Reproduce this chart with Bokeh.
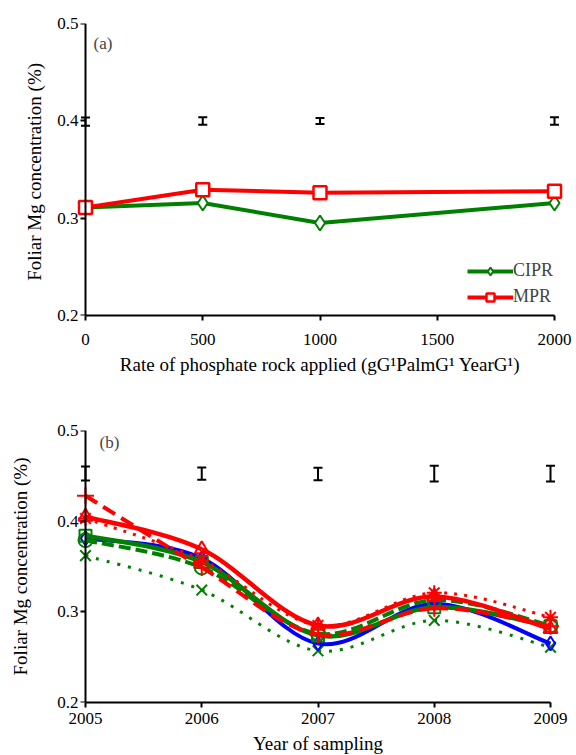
import numpy as np
from bokeh.plotting import figure
from bokeh.layouts import column
from bokeh.models import (ColumnDataSource, Whisker, TeeHead, Legend, LegendItem,
                          Label, Range1d, FixedTicker, LinearAxis)
from bokeh.embed import file_html
from bokeh.resources import INLINE

# ---------------- data: panel (a) ----------------
rates = [0, 500, 1000, 2000]
cipr = [0.311, 0.3156, 0.295, 0.3156]
mpr = [0.311, 0.3293, 0.326, 0.3276]
err_a_mid = [0.3992, 0.3998, 0.3998, 0.3998]
err_a_half = [0.0043, 0.0038, 0.0031, 0.0038]
rate_ticks = [0, 500, 1000, 1500, 2000]

# ---------------- data: panel (b) ----------------
years = [2005, 2006, 2007, 2008, 2009]
control = [0.381, 0.359, 0.265, 0.309, 0.265]
cipr500 = [0.384, 0.355, 0.274, 0.305, 0.284]
cipr1000 = [0.379, 0.349, 0.276, 0.313, 0.285]
cipr2000 = [0.362, 0.324, 0.257, 0.2905, 0.261]
mpr500 = [0.405, 0.369, 0.285, 0.317, 0.281]
mpr1000 = [0.428, 0.349, 0.275, 0.304, 0.284]
mpr2000 = [0.403, 0.357, 0.285, 0.321, 0.294]
err_b_mid = [0.4525, 0.4525, 0.4520, 0.4525, 0.4525]
err_b_half = [0.0077, 0.0067, 0.0070, 0.0087, 0.0087]

y_ticks = [0.2, 0.3, 0.4, 0.5]

GREEN = "#008000"
RED = "#ff0000"
BLUE = "#0000ff"
FONT = "Liberation Serif"


def base_style(ax):
    ax.axis_line_width = 2
    ax.axis_line_color = "black"
    ax.major_tick_line_width = 2
    ax.major_tick_line_color = "black"
    ax.major_tick_out = 5
    ax.major_tick_in = 0
    ax.minor_tick_out = 0
    ax.minor_tick_in = 0
    ax.major_label_text_font = FONT
    ax.major_label_text_font_size = "17px"
    ax.major_label_text_color = "black"
    ax.axis_label_text_font = FONT
    ax.axis_label_text_font_size = "19px"
    ax.axis_label_text_font_style = "normal"
    ax.axis_label_text_color = "black"


def setup_axes(p, x_ticks, y_tk, x_label, y_label, x_lbl_std, x_std, y_std):
    # x axis (below): line limited to the data extent
    xa = p.xaxis[0]
    base_style(xa)
    xa.ticker = FixedTicker(ticks=x_ticks)
    xa.bounds = (x_ticks[0], x_ticks[-1])
    xa.axis_label = x_label
    xa.major_label_standoff = x_lbl_std
    xa.axis_label_standoff = x_std
    # y axis (left): carries tick labels and title only
    ya = p.yaxis[0]
    base_style(ya)
    ya.ticker = FixedTicker(ticks=y_tk)
    ya.axis_label = y_label
    ya.axis_line_color = None
    ya.major_tick_line_color = None
    ya.major_tick_out = 0
    ya.major_label_standoff = -3
    ya.axis_label_standoff = y_std
    # y axis line and ticks, placed at the first x value
    yl = LinearAxis(ticker=FixedTicker(ticks=y_tk), fixed_location=x_ticks[0])
    base_style(yl)
    yl.major_label_text_color = None
    p.add_layout(yl, "left")
    p.xgrid.visible = False
    p.ygrid.visible = False
    p.outline_line_color = None
    p.background_fill_color = "white"
    p.border_fill_color = "white"


def bezier_source(xs, ys):
    xs = np.asarray(xs, float)
    ys = np.asarray(ys, float)
    px = np.concatenate([[xs[0]], xs, [xs[-1]]])
    py = np.concatenate([[ys[0]], ys, [ys[-1]]])
    n = len(xs)
    i = np.arange(n - 1)
    return ColumnDataSource(dict(
        x0=xs[:-1], y0=ys[:-1], x1=xs[1:], y1=ys[1:],
        cx0=xs[:-1] + (px[i + 2] - px[i]) / 6.0,
        cy0=ys[:-1] + (py[i + 2] - py[i]) / 6.0,
        cx1=xs[1:] - (px[i + 3] - px[i + 1]) / 6.0,
        cy1=ys[1:] - (py[i + 3] - py[i + 1]) / 6.0,
    ))


def add_whiskers(p, xs, mids, halves):
    src = ColumnDataSource(dict(x=xs,
                                lo=[m - h for m, h in zip(mids, halves)],
                                hi=[m + h for m, h in zip(mids, halves)]))
    p.add_layout(Whisker(source=src, base="x", lower="lo", upper="hi",
                         line_color="black", line_width=2,
                         lower_head=TeeHead(size=9, line_width=2, line_color="black"),
                         upper_head=TeeHead(size=9, line_width=2, line_color="black")))


# ---------------- panel (a) ----------------
pad_a = 42.6
pa = figure(frame_width=489, frame_height=292, output_backend="svg",
            toolbar_location=None,
            x_range=Range1d(rate_ticks[0] - pad_a, rate_ticks[-1] + pad_a),
            y_range=Range1d(y_ticks[0], y_ticks[-1]),
            min_border_left=75, min_border_right=12, min_border_top=23,
            min_border_bottom=65)
setup_axes(pa, rate_ticks, y_ticks,
           "Rate of phosphate rock applied (gG\u00b9PalmG\u00b9 YearG\u00b9)",
           "Foliar  Mg concentration (%)", 13, 6, 9)
add_whiskers(pa, rates, err_a_mid, err_a_half)

l_c = pa.line(rates, cipr, line_color=GREEN, line_width=4)
m_c = pa.scatter(rates, cipr, marker="diamond", size=15, fill_color="white",
                 line_color=GREEN, line_width=2)
l_m = pa.line(rates, mpr, line_color=RED, line_width=4)
m_m = pa.scatter(rates, mpr, marker="square", size=13, fill_color="white",
                 line_color=RED, line_width=2.5)

leg = Legend(items=[LegendItem(label="CIPR", renderers=[l_c, m_c]),
                    LegendItem(label="MPR", renderers=[l_m, m_m])],
             location=(392, 8), border_line_color=None, background_fill_alpha=0,
             label_text_font=FONT, label_text_font_size="18px",
             glyph_width=46, glyph_height=20, label_height=20, label_standoff=0,
             spacing=5, padding=0, margin=0)
pa.add_layout(leg)
pa.add_layout(Label(x=rate_ticks[0], y=y_ticks[-1], x_offset=8, y_offset=-10,
                    text="(a)", text_font=FONT, text_font_size="17px",
                    text_baseline="top", text_align="left"))

# ---------------- panel (b) ----------------
pad_b = 0.086
pb = figure(frame_width=485, frame_height=272, output_backend="svg",
            toolbar_location=None,
            x_range=Range1d(years[0] - pad_b, years[-1] + pad_b),
            y_range=Range1d(y_ticks[0], y_ticks[-1]),
            min_border_left=71, min_border_right=20, min_border_top=50,
            min_border_bottom=53)
setup_axes(pb, years, y_ticks, "Year of sampling",
           "Foliar Mg concentration (%)", 5, 6, 23)
add_whiskers(pb, years, err_b_mid, err_b_half)

series = [
    (cipr2000, GREEN, 3, "3 8", "x", 15),
    (control, BLUE, 4, "solid", "diamond", 14),
    (cipr500, GREEN, 4.5, "solid", "square", 12),
    (cipr1000, GREEN, 4, "12 5", "circle", 14),
    (mpr1000, RED, 4, "14 7", "cross", 17),
    (mpr2000, RED, 3, "3 7", "asterisk", 15),
    (mpr500, RED, 4.5, "solid", "triangle", 14),
]
for vals, col, lw, dash, mk, sz in series:
    pb.bezier(x0="x0", y0="y0", x1="x1", y1="y1", cx0="cx0", cy0="cy0",
              cx1="cx1", cy1="cy1", source=bezier_source(years, vals),
              line_color=col, line_width=lw, line_dash=dash)
    pb.scatter(years, vals, marker=mk, size=sz, fill_color=None,
               line_color=col, line_width=2)

pb.add_layout(Label(x=years[0], y=y_ticks[-1], x_offset=14, y_offset=-2,
                    text="(b)", text_font=FONT, text_font_size="17px",
                    text_baseline="top", text_align="left"))

layout = column(pa, pb, spacing=0)
open("out.html", "w").write(file_html(layout, INLINE))
